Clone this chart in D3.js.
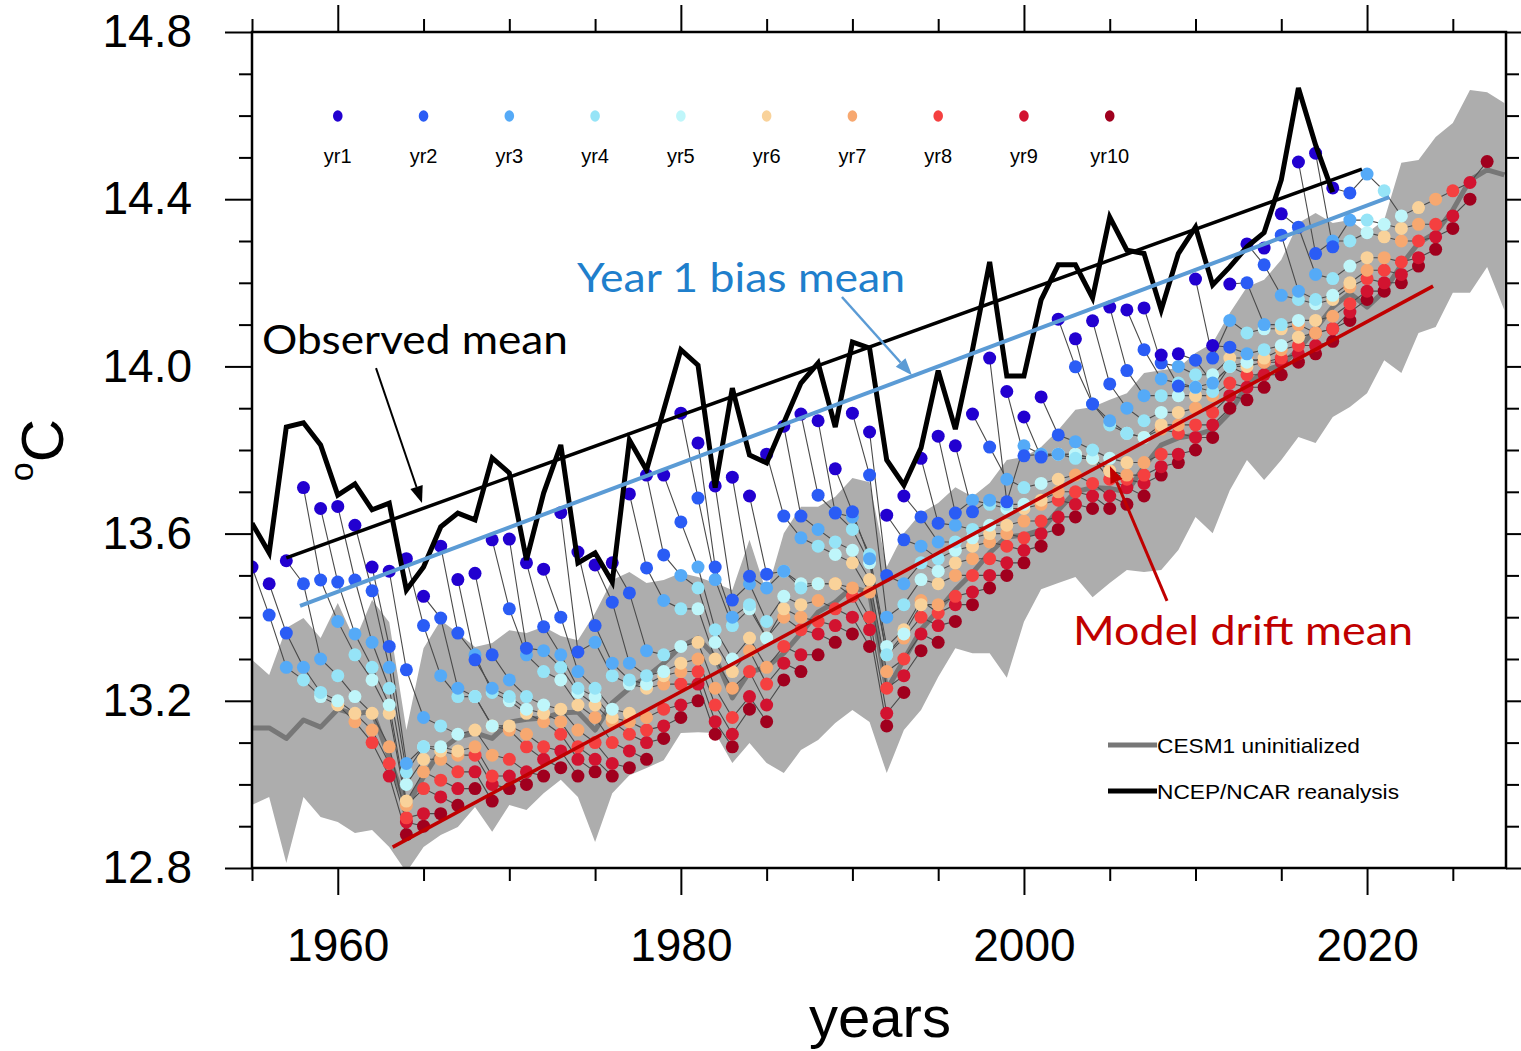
<!DOCTYPE html>
<html><head><meta charset="utf-8">
<script src="https://cdn.jsdelivr.net/npm/d3@7"></script>
<style>body{margin:0;background:#fff}svg{display:block}</style>
</head><body>
<svg id="chart" width="1521" height="1051"></svg>
<script>
// ---------------- DATA ----------------
const obsStart = 1955;
const obsValues = [13.625,13.554,13.855,13.865,13.812,13.692,13.719,13.657,13.673,13.465,
13.52,13.616,13.649,13.633,13.781,13.745,13.537,13.697,13.812,13.53,
13.554,13.484,13.824,13.752,13.896,14.04,14.003,13.71,13.948,13.788,
13.769,13.865,13.96,14.008,13.855,14.058,14.044,13.776,13.716,13.805,
13.99,13.85,14.04,14.25,13.977,13.977,14.159,14.243,14.243,14.164,
14.357,14.278,14.27,14.135,14.27,14.333,14.195,14.238,14.286,14.32,
14.446,14.666,14.53,14.417];

const modelStart = 1955;
const modelValues = [13.135,13.135,13.11,13.154,13.137,13.18,13.168,13.176,13.065,12.946,
13.018,13.082,13.113,13.123,13.11,13.149,13.156,13.159,13.171,13.173,
13.13,13.195,13.23,13.257,13.29,13.33,13.35,13.305,13.207,13.269,
13.28,13.314,13.362,13.412,13.436,13.472,13.458,13.226,13.298,13.37,
13.417,13.465,13.506,13.554,13.592,13.596,13.608,13.656,13.70,13.71,
13.708,13.70,13.76,13.812,13.829,13.836,13.848,13.89,13.955,13.99,
14.003,14.04,14.09,14.142,14.175,14.142,14.18,14.243,14.295,14.32,
14.374,14.446,14.47,14.458];

const envUpper = [13.298,13.262,13.374,13.398,13.350,13.434,13.345,13.441,13.388,13.130,
13.326,13.393,13.362,13.329,13.338,13.369,13.362,13.377,13.355,13.345,
13.410,13.489,13.508,13.482,13.489,13.506,13.496,13.482,13.465,13.585,
13.458,13.601,13.664,13.664,13.688,13.733,13.723,13.520,13.601,13.649,
13.673,13.711,13.688,13.721,13.776,13.783,13.807,13.848,13.896,13.903,
13.920,13.936,13.984,13.991,13.996,14.032,14.056,14.128,14.190,14.207,
14.255,14.343,14.367,14.343,14.350,14.319,14.350,14.487,14.494,14.549,
14.582,14.661,14.656,14.630];
const envLower = [12.951,12.970,12.812,12.970,12.922,12.910,12.884,12.891,12.850,12.790,
12.850,12.879,12.898,12.946,12.887,12.951,12.939,12.979,13.011,12.970,
12.862,12.979,13.022,13.039,13.058,13.123,13.125,13.123,13.051,13.099,
13.051,13.027,13.082,13.106,13.147,13.178,13.149,13.027,13.130,13.178,
13.257,13.326,13.314,13.314,13.255,13.389,13.467,13.482,13.496,13.448,
13.482,13.513,13.508,13.513,13.561,13.640,13.601,13.704,13.776,13.728,
13.776,13.831,13.817,13.879,13.903,13.936,14.015,13.984,14.080,14.094,
14.176,14.176,14.238,14.135];

// Hindcasts: yrK[i] is lead-year K of the run whose year 1 is 1955+i
const hindFirstYear = 1955;
const yr1 = [13.52,13.48,13.535,13.71,13.66,13.665,13.62,13.52,13.51,13.54,
13.45,13.57,13.49,13.505,13.585,13.587,13.53,13.515,13.65,13.556,
13.525,13.53,13.695,13.74,13.74,13.888,13.817,13.714,13.735,13.69,
13.79,13.857,13.886,13.87,13.755,13.888,13.843,13.644,13.69,13.78,
13.833,13.81,13.886,14.02,13.94,13.879,13.927,14.113,14.066,14.109,
14.142,14.135,14.14,14.027,14.03,14.209,14.05,14.197,14.293,14.283,
14.365,14.489,14.51,14.427];
const yr2 = [13.405,13.362,13.48,13.489,13.484,13.489,13.463,13.33,13.274,13.38,
13.398,13.362,13.298,13.31,13.42,13.326,13.377,13.40,13.317,13.38,
13.436,13.458,13.518,13.549,13.628,13.685,13.52,13.441,13.498,13.503,
13.642,13.642,13.692,13.649,13.652,13.74,13.50,13.585,13.64,13.625,
13.649,13.652,13.807,13.676,13.786,13.783,13.836,13.999,13.91,13.958,
13.99,14.04,14.008,13.953,14.015,14.02,14.046,14.2,14.243,14.314,
14.333,14.27,14.286,14.415];
const yr3 = [13.28,13.28,13.30,13.39,13.36,13.34,13.28,13.05,13.16,13.26,
13.23,13.31,13.23,13.25,13.31,13.32,13.31,13.27,13.34,13.29,
13.29,13.32,13.44,13.50,13.52,13.49,13.40,13.48,13.47,13.51,
13.59,13.61,13.65,13.64,13.54,13.40,13.48,13.57,13.58,13.62,
13.68,13.68,13.73,13.81,13.79,13.79,13.82,13.91,13.87,13.90,
13.93,13.97,14.00,13.95,13.96,14.11,14.03,14.10,14.17,14.18,
14.22,14.30,14.35,14.46];
const yr4 = [13.25,13.22,13.26,13.31,13.28,13.23,13.03,13.09,13.14,13.21,
13.21,13.22,13.21,13.21,13.27,13.28,13.23,13.23,13.26,13.25,
13.26,13.31,13.42,13.47,13.37,13.38,13.43,13.39,13.51,13.47,
13.57,13.58,13.61,13.55,13.31,13.43,13.53,13.54,13.58,13.61,
13.67,13.67,13.71,13.79,13.79,13.78,13.80,13.86,13.84,13.87,
13.93,13.96,13.98,13.94,14.00,14.08,14.04,14.10,14.16,14.16,
14.21,14.30,14.35,14.42];
const yr5 = [13.21,13.20,13.21,13.25,13.19,13.00,13.09,13.09,13.12,13.21,
13.14,13.20,13.18,13.19,13.25,13.22,13.21,13.18,13.24,13.24,
13.27,13.33,13.42,13.34,13.30,13.42,13.35,13.45,13.48,13.48,
13.55,13.56,13.53,13.33,13.36,13.49,13.51,13.56,13.59,13.62,
13.66,13.67,13.72,13.79,13.79,13.78,13.78,13.84,13.83,13.89,
13.93,13.95,13.98,14.00,14.01,14.09,14.05,14.11,14.15,14.17,
14.24,14.32,14.34,14.36];
const yr6 = [13.19,13.17,13.17,13.17,12.96,13.06,13.08,13.08,13.13,13.14,
13.14,13.17,13.17,13.18,13.19,13.19,13.16,13.17,13.23,13.26,
13.29,13.34,13.30,13.27,13.35,13.35,13.42,13.43,13.48,13.48,
13.53,13.49,13.31,13.37,13.43,13.48,13.53,13.57,13.60,13.62,
13.66,13.68,13.73,13.79,13.78,13.75,13.77,13.83,13.86,13.89,
13.93,13.96,14.02,14.00,14.02,14.09,14.07,14.11,14.16,14.20,
14.26,14.31,14.33,14.38];
const yr7 = [13.15,13.13,13.09,12.95,13.03,13.06,13.07,13.09,13.07,13.13,
13.12,13.15,13.15,13.13,13.16,13.15,13.15,13.16,13.24,13.27,
13.30,13.23,13.23,13.32,13.28,13.40,13.40,13.44,13.48,13.47,
13.46,13.27,13.35,13.44,13.43,13.50,13.54,13.58,13.60,13.63,
13.67,13.70,13.74,13.78,13.75,13.74,13.77,13.85,13.86,13.90,
13.93,14.00,14.02,14.01,14.04,14.10,14.08,14.12,14.19,14.23,
14.26,14.30,14.34,14.40];
const yr8 = [13.10,13.05,12.92,12.99,13.01,13.03,13.07,13.02,13.06,13.09,
13.09,13.12,13.09,13.10,13.10,13.12,13.13,13.18,13.24,13.27,
13.19,13.16,13.27,13.24,13.33,13.37,13.39,13.42,13.45,13.40,
13.23,13.30,13.40,13.41,13.45,13.50,13.54,13.57,13.59,13.63,
13.68,13.70,13.72,13.73,13.73,13.74,13.79,13.84,13.86,13.89,
13.96,13.98,14.01,14.02,14.05,14.08,14.09,14.15,14.21,14.23,
14.25,14.30,14.34,14.42];
const yr9 = [13.02,12.91,12.93,12.97,12.99,13.03,13.00,13.02,13.03,13.06,
13.08,13.06,13.06,13.05,13.08,13.10,13.14,13.19,13.24,13.15,
13.12,13.21,13.19,13.29,13.31,13.36,13.38,13.40,13.37,13.17,
13.26,13.36,13.38,13.43,13.46,13.50,13.53,13.56,13.60,13.64,
13.67,13.69,13.69,13.71,13.72,13.76,13.79,13.83,13.86,13.93,
13.95,13.98,14.01,14.03,14.05,14.09,14.13,14.18,14.20,14.22,
14.26,14.31,14.36,14.44];
const yr10 = [12.88,12.90,12.93,12.95,12.99,12.96,12.99,13.00,13.02,13.04,
13.02,13.03,13.02,13.04,13.06,13.11,13.16,13.20,13.12,13.09,
13.18,13.15,13.25,13.27,13.31,13.34,13.36,13.33,13.14,13.22,
13.32,13.34,13.39,13.43,13.47,13.50,13.53,13.57,13.61,13.64,
13.66,13.66,13.67,13.69,13.74,13.77,13.80,13.83,13.90,13.92,
13.95,13.98,14.01,14.03,14.06,14.11,14.16,14.18,14.20,14.24,
14.28,14.33,14.40,14.49];

const leadLabels = ["yr1","yr2","yr3","yr4","yr5","yr6","yr7","yr8","yr9","yr10"];
const leadColors = ["#2200d0","#2a5cf5","#55aaf7","#96e4f7","#bff6fa","#f9d29a","#f7a870","#f54040","#d21330","#a0001e"];

// trend lines (year, value) end points
const obsTrend = [[1957.0,13.542],[2019.7,14.472]];
const biasTrend = [[1957.8,13.427],[2021.3,14.405]];
const driftTrend = [[1963.2,12.850],[2023.85,14.192]];

// axis ticks
const majorYears = [1960,1980,2000,2020];
const minorYears = [1955,1965,1970,1975,1985,1990,1995,2005,2010,2015,2025];
const majorTemps = [12.8,13.2,13.6,14.0,14.4,14.8];
const minorTemps = [12.9,13.0,13.1,13.3,13.4,13.5,13.7,13.8,13.9,14.1,14.2,14.3,14.5,14.6,14.7];

// annotations (positions in year / °C), arrows: [fromYear, fromVal, toYear, toVal]
const annObserved = {text:"Observed mean", at:[1955.58,14.03], color:"#000", len:306, arrow:[1962.23,13.996,1964.91,13.673]};
const annBias = {text:"Year 1 bias mean", at:[1973.95,14.178], color:"#1f7fcc", arrowColor:"#5b9bd5", len:328, arrow:[1989.39,14.166,1993.47,13.979]};
const annDrift = {text:"Model drift mean", at:[2002.86,13.333], color:"#c00000", len:340, arrow:[2008.34,13.439,2005.01,13.762]};

// ---------------- DRAW ----------------
const X0 = 252, X1 = 1506, Y0 = 32, Y1 = 868;
const svg = d3.select("#chart");
const x = d3.scaleLinear().domain([1955, 2028.1]).range([X0, X1]);
const y = d3.scaleLinear().domain([12.8, 14.8]).range([Y1, Y0]);
const FONT = "'Liberation Sans', Arial, Helvetica, sans-serif";

svg.append("defs").append("clipPath").attr("id","plotclip")
  .append("rect").attr("x",X0).attr("y",Y0).attr("width",X1-X0).attr("height",Y1-Y0);

const plot = svg.append("g").attr("clip-path","url(#plotclip)");

// envelope
const envData = envUpper.map((u,i)=>({year:modelStart+i, u, l:envLower[i]}));
plot.append("path").datum(envData)
  .attr("d", d3.area().x(d=>x(d.year)).y0(d=>y(d.l)).y1(d=>y(d.u)))
  .attr("fill","#adadad");

// uninitialized model line
const modelData = modelValues.map((v,i)=>({year:modelStart+i, v}));
const lineGen = d3.line().x(d=>x(d.year)).y(d=>y(d.v));
plot.append("path").datum(modelData).attr("d",lineGen)
  .attr("fill","none").attr("stroke","#777").attr("stroke-width",5).attr("stroke-linejoin","round");

// hindcast trajectories
const leads = [yr1,yr2,yr3,yr4,yr5,yr6,yr7,yr8,yr9,yr10];
const traj = d3.range(yr1.length).map(i => leads.map((arr,k)=>({year:hindFirstYear+i+k, v:arr[i], k})));
const tg = plot.append("g");
tg.selectAll("path.traj").data(traj).join("path").attr("class","traj")
  .attr("d",lineGen).attr("fill","none").attr("stroke","#4a4a4a").attr("stroke-width",1.1);
const dg = plot.append("g");
traj.forEach(t=>{
  dg.append("g").selectAll("circle").data(t).join("circle")
    .attr("cx",d=>x(d.year)).attr("cy",d=>y(d.v)).attr("r",6.5)
    .attr("fill",d=>leadColors[d.k]);
});

// observed line
const obsData = obsValues.map((v,i)=>({year:obsStart+i, v}));
plot.append("path").datum(obsData).attr("d",lineGen)
  .attr("fill","none").attr("stroke","#000").attr("stroke-width",5).attr("stroke-linejoin","miter");

// trend lines
function trend(pts,color,w){
  plot.append("path").datum(pts.map(p=>({year:p[0],v:p[1]}))).attr("d",lineGen)
    .attr("fill","none").attr("stroke",color).attr("stroke-width",w);
}
trend(obsTrend,"#000",3.5);
trend(biasTrend,"#5b9bd5",4);
trend(driftTrend,"#c00000",3.5);

// annotations
function arrow(a,color,w){
  const x1=x(a[0]), y1=y(a[1]), x2=x(a[2]), y2=y(a[3]);
  const ang=Math.atan2(y2-y1,x2-x1), L=17, H=6.5;
  const bx=x2-L*Math.cos(ang), by=y2-L*Math.sin(ang);
  svg.append("line").attr("x1",x1).attr("y1",y1).attr("x2",bx).attr("y2",by)
    .attr("stroke",color).attr("stroke-width",w);
  svg.append("path").attr("d",`M${x2},${y2}L${bx+H*Math.sin(ang)},${by-H*Math.cos(ang)}L${bx-H*Math.sin(ang)},${by+H*Math.cos(ang)}Z`)
    .attr("fill",color);
}
[annObserved, annBias, annDrift].forEach(a=>{
  svg.append("text").attr("x",x(a.at[0])).attr("y",y(a.at[1]))
    .attr("font-family","Lato, 'Open Sans', sans-serif").attr("font-size",41)
    .attr("fill",a.color).attr("textLength",a.len).attr("lengthAdjust","spacingAndGlyphs")
    .text(a.text);
  arrow(a.arrow, a.arrowColor||a.color, a===annObserved?2:(a===annBias?2.5:3));
});

// lead legend
const lg = svg.append("g");
leadLabels.forEach((lab,k)=>{
  const cx = x(1960+5*k);
  lg.append("ellipse").attr("cx",cx).attr("cy",116).attr("rx",4.8).attr("ry",5.8).attr("fill",leadColors[k]);
  lg.append("text").attr("x",cx).attr("y",163).attr("text-anchor","middle")
    .attr("font-family",FONT).attr("font-size",20).attr("fill","#000").text(lab);
});

// line legend
const ll = [{label:"CESM1 uninitialized", color:"#777", y:745, len:203},
            {label:"NCEP/NCAR reanalysis", color:"#000", y:791, len:242}];
ll.forEach(e=>{
  svg.append("line").attr("x1",1108).attr("x2",1157).attr("y1",e.y).attr("y2",e.y)
    .attr("stroke",e.color).attr("stroke-width",5);
  svg.append("text").attr("x",1157).attr("y",e.y+8).attr("font-family",FONT).attr("font-size",21)
    .attr("textLength",e.len).attr("lengthAdjust","spacingAndGlyphs").attr("fill","#000").text(e.label);
});

// frame
svg.append("rect").attr("x",X0).attr("y",Y0).attr("width",X1-X0).attr("height",Y1-Y0)
  .attr("fill","none").attr("stroke","#000").attr("stroke-width",2.5);

// axes
function style(g){
  g.select(".domain").remove();
  g.selectAll("line").attr("stroke","#000").attr("stroke-width",2);
  g.selectAll("text").attr("font-family",FONT).attr("font-size",46).attr("fill","#000");
}
svg.append("g").attr("transform",`translate(0,${Y1})`)
  .call(d3.axisBottom(x).tickValues(majorYears).tickSize(27).tickPadding(33).tickFormat(d3.format("d"))).call(style);
svg.append("g").attr("transform",`translate(0,${Y1})`)
  .call(d3.axisBottom(x).tickValues(minorYears).tickSize(13).tickFormat("")).call(style);
svg.append("g").attr("transform",`translate(0,${Y0})`)
  .call(d3.axisTop(x).tickValues(majorYears).tickSize(27).tickFormat("")).call(style);
svg.append("g").attr("transform",`translate(0,${Y0})`)
  .call(d3.axisTop(x).tickValues(minorYears).tickSize(13).tickFormat("")).call(style);
svg.append("g").attr("transform",`translate(${X0},0)`)
  .call(d3.axisLeft(y).tickValues(majorTemps).tickSize(27).tickPadding(33).tickFormat(d3.format(".1f"))).call(style);
svg.append("g").attr("transform",`translate(${X0},0)`)
  .call(d3.axisLeft(y).tickValues(minorTemps).tickSize(13).tickFormat("")).call(style);
svg.append("g").attr("transform",`translate(${X1},0)`)
  .call(d3.axisRight(y).tickValues(majorTemps).tickSize(27).tickFormat("")).call(style);
svg.append("g").attr("transform",`translate(${X1},0)`)
  .call(d3.axisRight(y).tickValues(minorTemps).tickSize(13).tickFormat("")).call(style);

// axis titles
svg.append("text").attr("x",880).attr("y",1037).attr("text-anchor","middle")
  .attr("font-family",FONT).attr("font-size",58).attr("fill","#000").text("years");
const yt = svg.append("text").attr("transform","translate(63,450) rotate(-90)")
  .attr("text-anchor","middle").attr("font-family",FONT).attr("fill","#000");
yt.append("tspan").attr("font-size",34).attr("dy",-30).text("o");
yt.append("tspan").attr("font-size",60).attr("dy",30).text("C");
</script>
</body></html>
